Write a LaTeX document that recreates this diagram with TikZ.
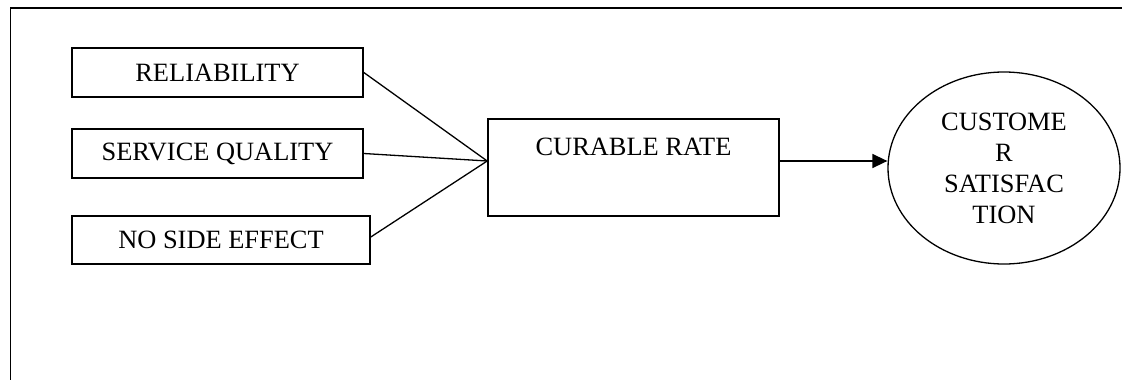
\documentclass[tikz,border=0pt]{standalone}
\usepackage{fontspec}
\setmainfont{Liberation Serif}
\usetikzlibrary{arrows.meta,shapes.geometric}
\begin{document}
\begin{tikzpicture}[x=1pt,y=-1pt,
  every node/.style={font=\fontsize{26.4}{31}\selectfont},
  box/.style={draw,line width=1.6pt,inner sep=0pt,minimum width=291pt,minimum height=49pt},
  conn/.style={line width=1.3pt},
  arr/.style={line width=1.6pt,-{Triangle[length=15pt,width=14pt]}}]
\useasboundingbox (0,0) rectangle (1122,380);
\draw[line width=1.6pt] (10.5,380) -- (10.5,8) -- (1122,8);
\node[box] (rel) at (217.5,72.5) {RELIABILITY};
\node[box] (sq) at (217.5,153.5) {SERVICE QUALITY};
\node[box,minimum width=298pt,minimum height=48pt] (nse) at (221,240) {NO SIDE EFFECT};
\node[box,minimum height=97pt,text height=18.5pt,text depth=43.5pt] (cr) at (633.5,167.5) {CURABLE RATE};
\node[draw,ellipse,line width=1.3pt,inner sep=0pt,minimum width=232pt,minimum height=192pt,align=center] (cs) at (1004,168) {CUSTOME\\R\\SATISFAC\\TION};
\coordinate (j) at ([yshift=6.5pt]cr.west);
\draw[conn] (rel.east) -- (j);
\draw[conn] (sq.east) -- (j);
\draw[conn] ([yshift=3pt]nse.east) -- (j);
\draw[arr] ([yshift=6.5pt]cr.east) -- ([yshift=6.5pt]cr.east -| cs.west);
\end{tikzpicture}
\end{document}
